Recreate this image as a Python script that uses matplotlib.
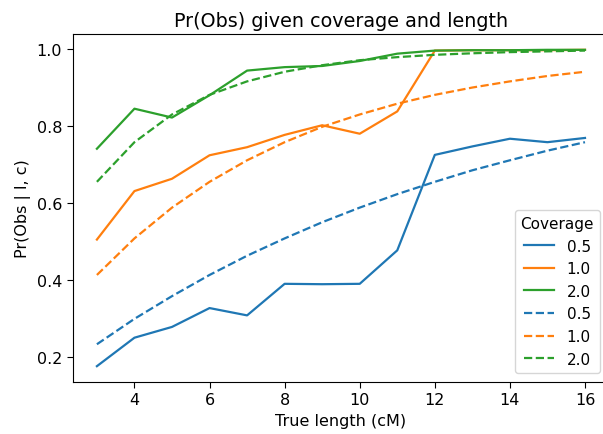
import matplotlib
matplotlib.use("Agg")
import matplotlib.pyplot as plt

lengths = [3, 4, 5, 6, 7, 8, 9, 10, 11, 12, 13, 14, 15, 16]
coverages = ["0.5", "1.0", "2.0"]

# observed fraction of segments detected
observed_05 = [0.177, 0.251, 0.279, 0.328, 0.309, 0.391, 0.390, 0.391, 0.478, 0.726, 0.748, 0.768, 0.759, 0.770]
observed_10 = [0.506, 0.632, 0.664, 0.725, 0.746, 0.778, 0.803, 0.781, 0.839, 0.997, 0.998, 0.998, 0.998, 0.999]
observed_20 = [0.742, 0.846, 0.823, 0.881, 0.945, 0.954, 0.957, 0.970, 0.989, 0.997, 0.998, 0.998, 0.999, 0.999]

# expected detection probability
expected_05 = [0.234, 0.300, 0.359, 0.414, 0.464, 0.509, 0.551, 0.589, 0.624, 0.656, 0.686, 0.712, 0.737, 0.759]
expected_10 = [0.414, 0.509, 0.589, 0.656, 0.712, 0.759, 0.799, 0.831, 0.859, 0.882, 0.901, 0.917, 0.931, 0.942]
expected_20 = [0.656, 0.759, 0.831, 0.882, 0.917, 0.942, 0.959, 0.972, 0.980, 0.986, 0.990, 0.993, 0.995, 0.997]

colors = ["#1f77b4", "#ff7f0e", "#2ca02c"]

plt.rcParams.update({
    "font.size": 11.5,
    "xtick.labelsize": 11.5,
    "ytick.labelsize": 11.5,
    "axes.labelsize": 11.5,
    "axes.titlesize": 13.8,
    "xtick.major.size": 4,
    "ytick.major.size": 4,
})

fig = plt.figure(figsize=(6.03, 4.35), dpi=100)
ax = fig.add_axes([72.5 / 603, 52 / 435, (609.4 - 72.5) / 603, (383 - 35) / 435])

for cov, vals, col in zip(coverages, [observed_05, observed_10, observed_20], colors):
    ax.plot(lengths, vals, color=col, lw=1.6, label=cov)
for cov, vals, col in zip(coverages, [expected_05, expected_10, expected_20], colors):
    ax.plot(lengths, vals, color=col, lw=1.6, ls="--", label=cov)

ax.set_xticks([4, 6, 8, 10, 12, 14, 16])
ax.set_yticks([0.2, 0.4, 0.6, 0.8, 1.0])
ax.set_xlabel("True length (cM)")
ax.set_ylabel("Pr(Obs | l, c)")
ax.set_title("Pr(Obs) given coverage and length")
ax.legend(title="Coverage", loc="lower right", fontsize=11, title_fontsize=11,
          borderaxespad=0.6)

fig.savefig("out.png", dpi=100)
